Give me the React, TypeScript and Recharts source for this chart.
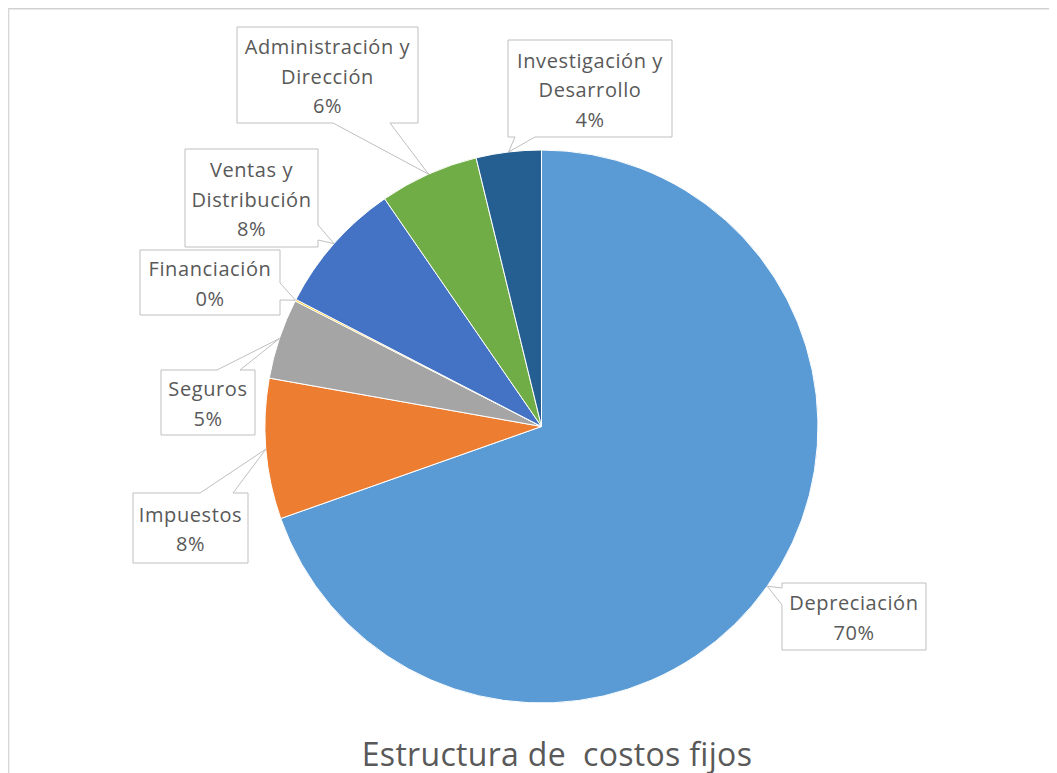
import React from 'react';
import { PieChart, Pie, Cell } from 'recharts';

const categories = [
  'Depreciación',
  'Impuestos',
  'Seguros',
  'Financiación',
  'Ventas y Distribución',
  'Administración y Dirección',
  'Investigación y Desarrollo',
];
const shares = [69.6, 8.2, 4.7, 0.1, 7.8, 5.8, 3.8];
const colors = ['#5B9BD5', '#ED7D31', '#A5A5A5', '#FFC000', '#4472C4', '#70AD47', '#255E91'];
const title = 'Estructura de  costos fijos';

// callout box layout (chart coordinates), separate from data
const labelLayout = [
  { x: 773, y: 574, w: 144, h: 67, edge: 'left', a: 579, b: 596 },
  { x: 124, y: 484, w: 115, h: 70, edge: 'top', a: 191, b: 224 },
  { x: 152, y: 361, w: 94, h: 65, edge: 'top', a: 208, b: 231 },
  { x: 131, y: 241, w: 140, h: 65, edge: 'right', a: 274, b: 291 },
  { x: 176, y: 140, w: 133, h: 98, edge: 'right', a: 216, b: 231 },
  { x: 228, y: 18, w: 181, h: 96, edge: 'bottom', a: 324, b: 381 },
  { x: 499, y: 31, w: 164, h: 97, edge: 'bottom', a: 506, b: 526 },
];

const data = categories.map((name, i) => ({ name, value: shares[i] }));

const RADIAN = Math.PI / 180;
const TEXT = '#595959';
const BOX = '#BFBFBF';
const FONT = '"Open Sans", "Noto Sans", sans-serif';

function splitName(name: string): string[] {
  const idx = name.indexOf(' y ');
  if (idx < 0) return [name];
  return [name.slice(0, idx + 2), name.slice(idx + 3)];
}

function calloutPath(l: any, tx: number, ty: number): string {
  const { x, y, w, h, edge, a, b } = l;
  const r = x + w;
  const btm = y + h;
  if (edge === 'bottom')
    return `M${x},${y} L${r},${y} L${r},${btm} L${b},${btm} L${tx},${ty} L${a},${btm} L${x},${btm} Z`;
  if (edge === 'top')
    return `M${x},${y} L${a},${y} L${tx},${ty} L${b},${y} L${r},${y} L${r},${btm} L${x},${btm} Z`;
  if (edge === 'left')
    return `M${x},${y} L${r},${y} L${r},${btm} L${x},${btm} L${x},${b} L${tx},${ty} L${x},${a} Z`;
  return `M${x},${y} L${r},${y} L${r},${a} L${tx},${ty} L${r},${b} L${r},${btm} L${x},${btm} Z`;
}

const renderLabel = (props: any) => {
  const { cx, cy, midAngle, outerRadius, percent, index, name } = props;
  const l = labelLayout[index];
  if (!l) return null;
  const tx = cx + outerRadius * Math.cos(-midAngle * RADIAN);
  const ty = cy + outerRadius * Math.sin(-midAngle * RADIAN);
  const lines = [...splitName(name ?? categories[index]), `${Math.round(percent * 100)}%`];
  const lh = 29.5;
  const midY = l.y + l.h / 2 + 1;
  const startY = midY - ((lines.length - 1) * lh) / 2;
  return (
    <g key={`lbl-${index}`}>
      <path d={calloutPath(l, tx, ty)} fill="#FFFFFF" stroke={BOX} strokeWidth={1} />
      {lines.map((t, i) => (
        <text
          key={i}
          x={l.x + l.w / 2}
          y={startY + i * lh}
          textAnchor="middle"
          dominantBaseline="central"
          fill={TEXT}
          fontSize={20}
          fontFamily={FONT}
          letterSpacing={0.6}
        >
          {t}
        </text>
      ))}
    </g>
  );
};

export default function App() {
  return (
    <div
      style={{
        position: 'relative',
        width: 1048,
        height: 764,
        borderTop: '1px solid #D0D0D0',
        borderLeft: '1px solid #D8D8D8',
        boxShadow: 'inset 0 1px 0 #E8E8E8, inset 1px 0 0 #F0F0F0',
        background: '#FFFFFF',
      }}
    >
      <PieChart width={1048} height={764} margin={{ top: 0, right: 0, bottom: 0, left: 0 }}>
        <Pie
          data={data}
          dataKey="value"
          nameKey="name"
          cx={532.5}
          cy={417.5}
          outerRadius={276.5}
          startAngle={90}
          endAngle={-270}
          stroke="#FFFFFF"
          strokeWidth={1}
          label={renderLabel}
          labelLine={false}
          isAnimationActive={false}
        >
          {data.map((d, i) => (
            <Cell key={d.name} fill={colors[i]} />
          ))}
        </Pie>
      </PieChart>
      <svg
        width={1048}
        height={764}
        style={{ position: 'absolute', left: 0, top: 0, pointerEvents: 'none' }}
      >
        <text
          x={548}
          y={757}
          textAnchor="middle"
          fill={TEXT}
          fontSize={32}
          fontFamily={FONT}
          letterSpacing={0.3}
          style={{ whiteSpace: 'pre' }}
        >
          {title}
        </text>
      </svg>
    </div>
  );
}
